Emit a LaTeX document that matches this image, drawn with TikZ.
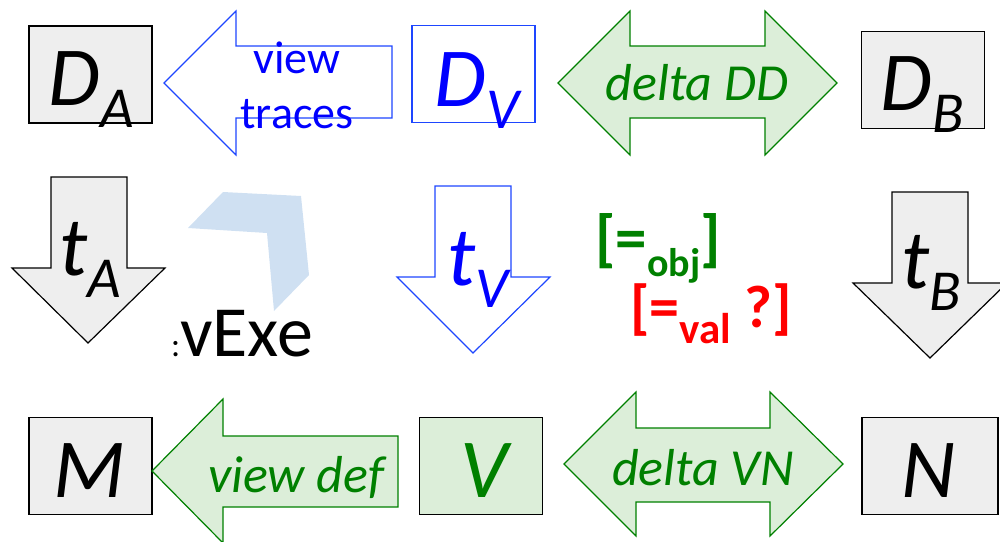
\documentclass[tikz,border=0pt]{standalone}
\usepackage{fontspec}
\setmainfont{Carlito}
\usepackage{xcolor}
\definecolor{boxgray}{RGB}{238,238,238}
\definecolor{vgreen}{RGB}{0,128,0}
\definecolor{lgreen}{RGB}{220,238,217}
\definecolor{vblue}{RGB}{0,0,255}
\definecolor{lineblue}{RGB}{30,70,255}
\definecolor{chevron}{RGB}{207,224,242}
\definecolor{valred}{RGB}{255,0,0}
\newcommand{\lowsub}[1]{\raisebox{-22pt}{\fontsize{58}{58}\selectfont #1}}
\tikzset{
    box/.style={rectangle, draw=black, line width=1.3pt, inner sep=0pt, minimum width=123pt, minimum height=97pt},
    graybox/.style={box, fill=boxgray},
    bluebox/.style={box, draw=lineblue, fill=white},
    greenbox/.style={box, fill=lgreen},
    blockgray/.style={draw=black, line width=1.2pt, fill=boxgray},
    blockblue/.style={draw=lineblue, line width=1.2pt, fill=white},
    blockgreen/.style={draw=vgreen, line width=1.2pt, fill=lgreen},
    big/.style={font=\fontsize{84}{84}\selectfont\itshape, inner sep=0pt, anchor=base},
    mid/.style={font=\fontsize{52}{52}\selectfont\itshape, inner sep=0pt, anchor=base, text=vgreen}
}
\begin{document}
\begin{tikzpicture}[x=1pt, y=-1pt]
    \clip (0,0) rectangle (1000,541);
    % top row
    \node[graybox] (da) at (90.5,74.5) {};
    \node[bluebox] (dv) at (473.5,74) {};
    \node[graybox] (db) at (923,80) {};
    \draw[blockblue] (392,46) -- (236,46) -- (236,11) -- (164,83) -- (236,155) -- (236,118) -- (392,118) -- cycle;
    \draw[blockgreen] (558,83) -- (630,11) -- (630,46) -- (765,46) -- (765,11) -- (837,83) -- (765,155) -- (765,118) -- (630,118) -- (630,155) -- cycle;
    \node[big] (dalabel) at (91,105) {D\lowsub{A}};
    \node[big, text=vblue] (dvlabel) at (477,106) {D\lowsub{V}};
    \node[big] (dblabel) at (922,110) {D\lowsub{B}};
    \node[font=\fontsize{46}{55}\selectfont, text=vblue, align=center, inner sep=0pt, anchor=base] (traces) at (297,128) {view\\traces};
    \node[mid] (deltadd) at (697,100) {delta DD};
    % middle row
    \draw[blockgray] (51,177) -- (127,177) -- (127,268) -- (165,268) -- (88,343) -- (12,268) -- (51,268) -- cycle;
    \draw[blockblue] (435,186) -- (511,186) -- (511,277) -- (550,277) -- (473,353) -- (397,277) -- (435,277) -- cycle;
    \draw[blockgray] (892,192) -- (968,192) -- (968,283) -- (1007,283) -- (930,358) -- (853,283) -- (892,283) -- cycle;
    \node[big] (ta) at (90,275) {t\lowsub{A}};
    \node[big, text=vblue] (tv) at (478,285) {t\lowsub{V}};
    \node[big] (tb) at (931,288) {t\lowsub{B}};
    \fill[chevron] (188,228) -- (223,192) -- (301,196) -- (309,275) -- (274,311) -- (267,233) -- cycle;
    \node[inner sep=0pt, anchor=base west] (vexe) at (171,356) {{\fontsize{34}{34}\selectfont:}\fontsize{72}{72}\selectfont vExe};
    \node[inner sep=0pt, anchor=base west, text=vgreen, font=\fontsize{63}{63}\selectfont\bfseries] (obj) at (595,259) {[=\raisebox{-17pt}{\fontsize{40}{40}\selectfont obj}]};
    \node[inner sep=0pt, anchor=base west, text=valred, font=\fontsize{60}{60}\selectfont\bfseries] (val) at (630,327) {[=\raisebox{-16pt}{\fontsize{43}{43}\selectfont val} ?]};
    % bottom row
    \node[graybox] (m) at (90.5,466) {};
    \node[greenbox] (v) at (481,466) {};
    \node[graybox, minimum width=136pt] (n) at (930,466) {};
    \draw[blockgreen] (398,436) -- (223,436) -- (223,399) -- (152,471) -- (223,543) -- (223,507) -- (398,507) -- cycle;
    \draw[blockgreen] (564,464) -- (636,392) -- (636,428) -- (770,428) -- (770,392) -- (843,464) -- (770,536) -- (770,502) -- (636,502) -- (636,536) -- cycle;
    \node[big] (mlabel) at (89,497) {M};
    \node[big, text=vgreen] (vlabel) at (484,497) {V};
    \node[big] (nlabel) at (929,497) {N};
    \node[mid] (viewdef) at (296,492) {view def};
    \node[mid] (deltavn) at (703,485) {delta VN};
\end{tikzpicture}
\end{document}
